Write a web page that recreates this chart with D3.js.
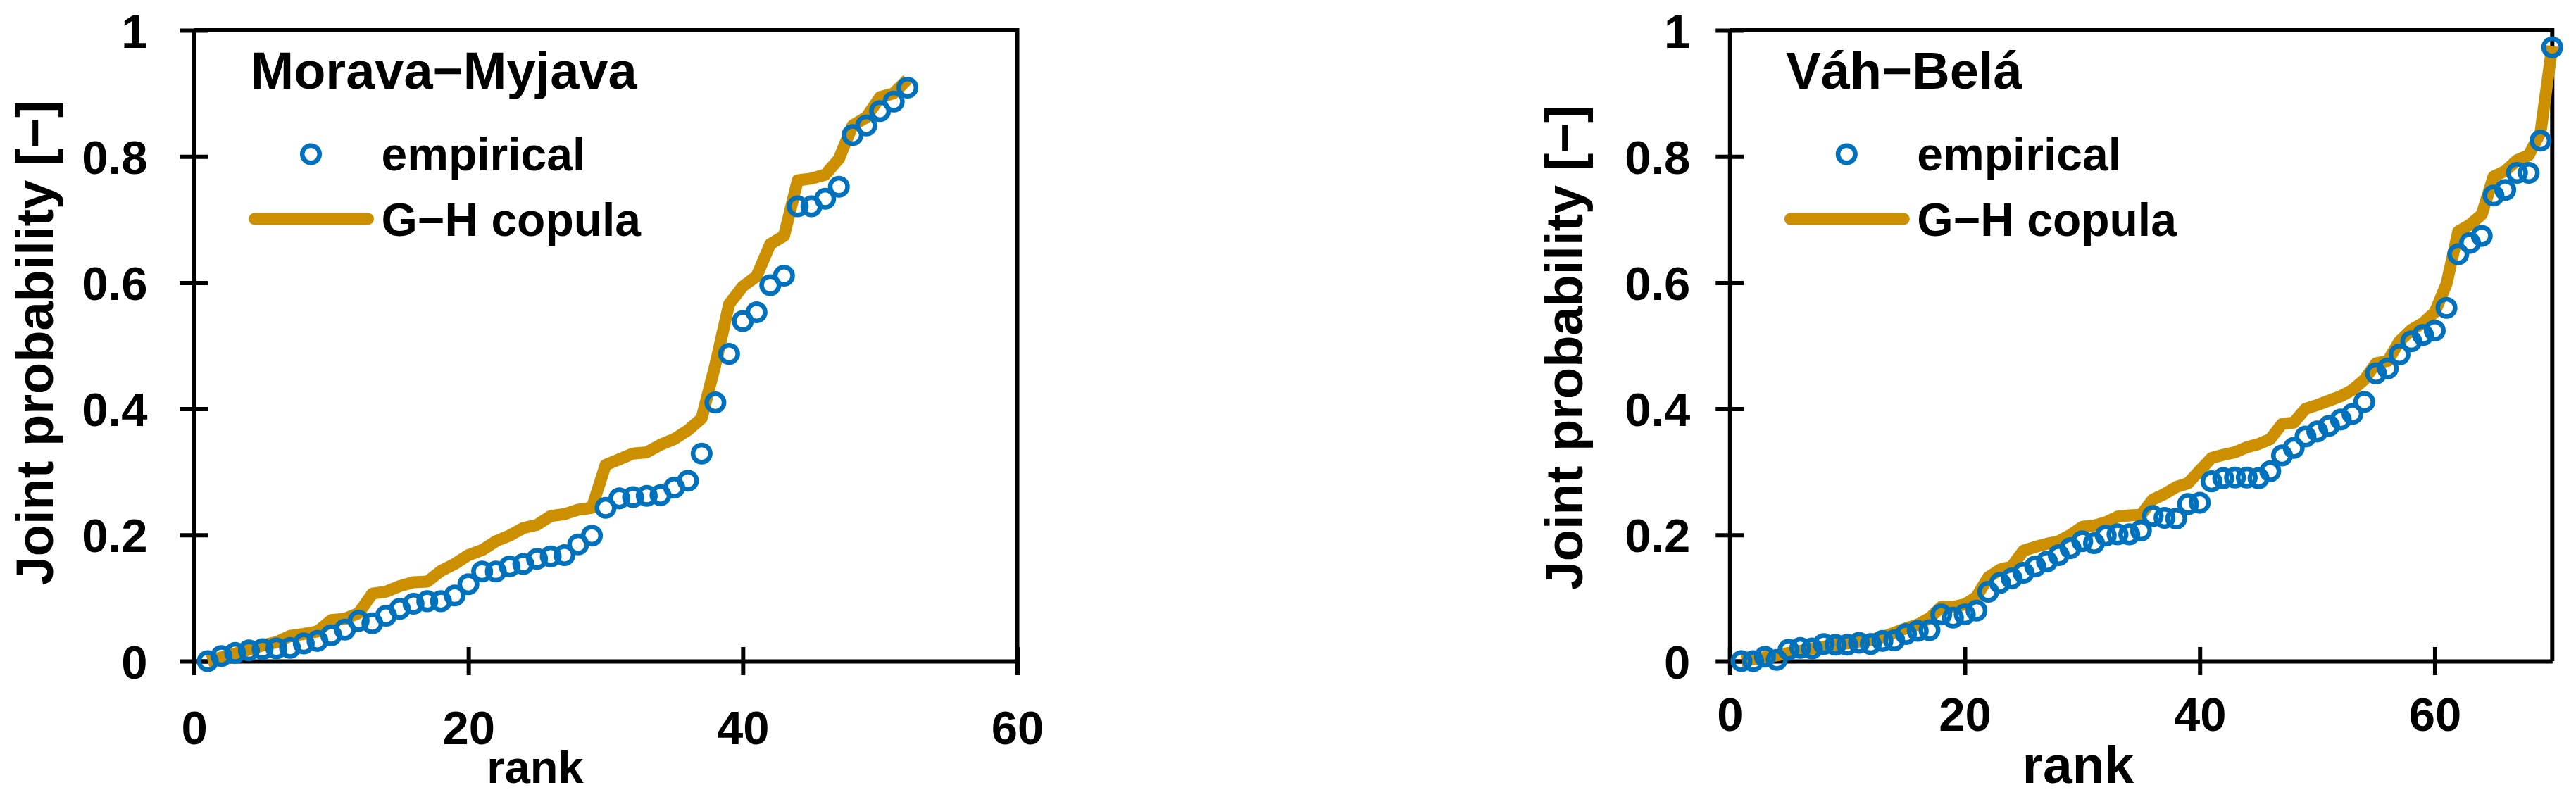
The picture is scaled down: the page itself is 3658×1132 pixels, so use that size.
<!DOCTYPE html>
<html>
<head>
<meta charset="utf-8">
<script src="https://cdn.jsdelivr.net/npm/d3@7"></script>
<style>
  body { margin: 0; background: #fff; }
  svg text { font-family: "Liberation Sans", Arial, sans-serif; font-weight: bold; fill: #000; }
</style>
</head>
<body>
<svg id="chart" width="3658" height="1132"></svg>
<script>
// Morava−Myjava, ranks 1..52
const mmEmpirical = [0.000, 0.008, 0.013, 0.017, 0.019, 0.020, 0.021, 0.028, 0.032, 0.041,
    0.050, 0.064, 0.060, 0.072, 0.083, 0.091, 0.095, 0.095, 0.104, 0.122,
    0.142, 0.142, 0.150, 0.154, 0.162, 0.166, 0.168, 0.185, 0.199, 0.243,
    0.258, 0.260, 0.262, 0.263, 0.275, 0.286, 0.329, 0.410, 0.487, 0.539,
    0.553, 0.596, 0.611, 0.721, 0.721, 0.733, 0.752, 0.834, 0.849, 0.872,
    0.887, 0.909];
const mmCopula = [0.000, 0.006, 0.012, 0.018, 0.025, 0.030, 0.040, 0.043, 0.047, 0.065,
    0.067, 0.076, 0.107, 0.110, 0.119, 0.125, 0.126, 0.143, 0.154, 0.168,
    0.176, 0.190, 0.199, 0.211, 0.216, 0.230, 0.233, 0.240, 0.243, 0.311,
    0.320, 0.329, 0.331, 0.343, 0.352, 0.366, 0.385, 0.470, 0.566, 0.594,
    0.610, 0.661, 0.674, 0.762, 0.765, 0.771, 0.796, 0.849, 0.862, 0.894,
    0.900, 0.922];

// Váh−Belá, ranks 1..70
const vbEmpirical = [0.000, 0.000, 0.007, 0.002, 0.018, 0.021, 0.020, 0.027, 0.026, 0.026,
    0.029, 0.027, 0.032, 0.033, 0.043, 0.048, 0.049, 0.074, 0.069, 0.074,
    0.080, 0.110, 0.124, 0.131, 0.140, 0.150, 0.158, 0.168, 0.179, 0.190,
    0.187, 0.199, 0.201, 0.201, 0.207, 0.230, 0.227, 0.226, 0.249, 0.251,
    0.285, 0.290, 0.291, 0.291, 0.290, 0.301, 0.326, 0.338, 0.356, 0.364,
    0.373, 0.383, 0.392, 0.411, 0.456, 0.464, 0.486, 0.507, 0.517, 0.524,
    0.560, 0.645, 0.663, 0.674, 0.738, 0.747, 0.774, 0.774, 0.825, 0.973];
const vbCopula = [0.000, 0.003, 0.006, 0.009, 0.013, 0.016, 0.020, 0.023, 0.026, 0.028,
    0.031, 0.034, 0.038, 0.045, 0.052, 0.058, 0.068, 0.086, 0.086, 0.090,
    0.102, 0.133, 0.145, 0.150, 0.175, 0.181, 0.186, 0.190, 0.200, 0.213,
    0.215, 0.220, 0.229, 0.231, 0.232, 0.256, 0.265, 0.276, 0.282, 0.302,
    0.322, 0.327, 0.331, 0.339, 0.344, 0.352, 0.376, 0.378, 0.400, 0.406,
    0.413, 0.420, 0.430, 0.446, 0.472, 0.476, 0.507, 0.525, 0.536, 0.553,
    0.598, 0.681, 0.692, 0.708, 0.768, 0.777, 0.794, 0.802, 0.838, 0.975];

const xTicks = [0, 20, 40, 60];
const yTicks = [0, 0.2, 0.4, 0.6, 0.8, 1];
const legendLabels = ["empirical", "G−H copula"];
const yTitle = "Joint probability [−]";
const xTitle = "rank";

const colors = { empirical: "#0072bd", copula: "#cc8f00" };

// panel layout (pixels)
const panels = [
    { title: "Morava−Myjava", empirical: mmEmpirical, copula: mmCopula, xMax: 60,
      left: 275.5, right: 1444.5, labelGap: 66, xLabelBase: 1057,
      rankX: 760, rankSize: 65, yTitleX: 75, yTitleY: 487 },
    { title: "Váh−Belá", empirical: vbEmpirical, copula: vbCopula, xMax: 70,
      left: 2456.3, right: 3624.3, labelGap: 56, xLabelBase: 1038,
      rankX: 2951, rankSize: 75, yTitleX: 2247, yTitleY: 494 }
];
const plotTop = 43, plotBottom = 939;

const svg = d3.select("#chart");
svg.append("rect").attr("width", 3658).attr("height", 1132).attr("fill", "#fff");

panels.forEach(p => {
    const x = d3.scaleLinear().domain([0, p.xMax]).range([p.left, p.right]);
    const y = d3.scaleLinear().domain([0, 1]).range([plotBottom, plotTop]);
    const g = svg.append("g");

    // frame (top, right)
    g.append("path")
        .attr("d", `M${p.left},${plotTop}H${p.right}V${plotBottom}`)
        .attr("fill", "none").attr("stroke", "#000").attr("stroke-width", 6);

    // y axis with cross ticks
    const yAxis = g.append("g")
        .attr("transform", `translate(${p.left},0)`)
        .call(d3.axisLeft(y).tickValues(yTicks).tickSize(20).tickSizeOuter(0)
            .tickFormat(d3.format("~g")));
    yAxis.select(".domain").attr("stroke-width", 6);
    yAxis.selectAll(".tick line").attr("x1", 20).attr("stroke-width", 6);
    yAxis.selectAll(".tick text")
        .attr("x", -p.labelGap).attr("dy", "0.36em")
        .style("font-size", "67px");

    // x axis with cross ticks
    const xAxis = g.append("g")
        .attr("transform", `translate(0,${plotBottom})`)
        .call(d3.axisBottom(x).tickValues(xTicks).tickSize(20).tickSizeOuter(0));
    xAxis.select(".domain").attr("stroke-width", 6);
    xAxis.selectAll(".tick line").attr("y1", -20).attr("stroke-width", 6);
    xAxis.selectAll(".tick text")
        .attr("y", p.xLabelBase - plotBottom).attr("dy", 0)
        .style("font-size", "67px");
    g.selectAll(".domain, .tick line").attr("stroke", "#000");
    g.selectAll(".tick text").attr("font-family", null).attr("font-size", null);

    // axis titles
    g.append("text")
        .attr("transform", `translate(${p.yTitleX},${p.yTitleY}) rotate(-90)`)
        .attr("text-anchor", "middle").style("font-size", "74px")
        .text(yTitle);
    g.append("text")
        .attr("x", p.rankX).attr("y", 1112)
        .attr("text-anchor", "middle").style("font-size", p.rankSize + "px")
        .text(xTitle);

    // copula line
    const line = d3.line().x((d, i) => x(i + 1)).y(d => y(d));
    g.append("path").datum(p.copula)
        .attr("d", line)
        .attr("fill", "none").attr("stroke", colors.copula)
        .attr("stroke-width", 17).attr("stroke-linejoin", "round");

    // empirical points
    g.append("g").selectAll("circle")
        .data(p.empirical)
        .join("circle")
        .attr("cx", (d, i) => x(i + 1)).attr("cy", d => y(d)).attr("r", 12.3)
        .attr("fill", "none").attr("stroke", colors.empirical).attr("stroke-width", 6.5);

    // title + legend
    g.append("text")
        .attr("x", p.left + 80).attr("y", 126)
        .style("font-size", "74px").text(p.title);
    g.append("circle")
        .attr("cx", p.left + 166).attr("cy", 219).attr("r", 12.3)
        .attr("fill", "none").attr("stroke", colors.empirical).attr("stroke-width", 6.5);
    g.append("line")
        .attr("x1", p.left + 86).attr("x2", p.left + 247)
        .attr("y1", 311).attr("y2", 311)
        .attr("stroke", colors.copula).attr("stroke-width", 17).attr("stroke-linecap", "round");
    g.selectAll(".legend-text")
        .data(legendLabels)
        .join("text")
        .attr("class", "legend-text")
        .attr("x", p.left + 266).attr("y", (d, i) => i === 0 ? 242 : 335)
        .style("font-size", "66px")
        .text(d => d);
});
</script>
</body>
</html>
